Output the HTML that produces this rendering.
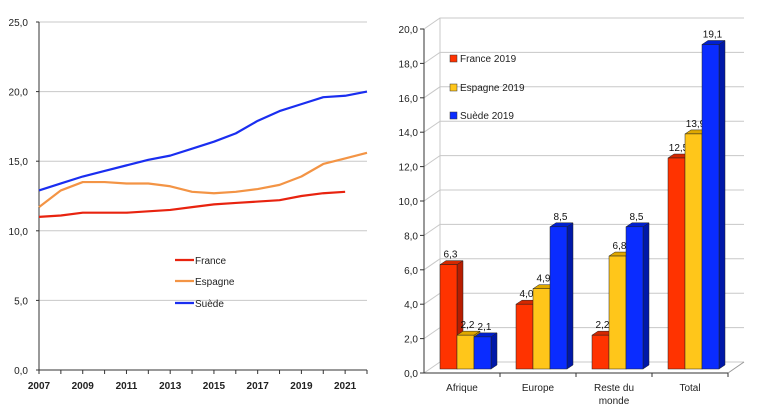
<!DOCTYPE html>
<html><head><meta charset="utf-8"><style>
html,body{margin:0;padding:0;background:#fff;}
svg{display:block;font-family:"Liberation Sans",sans-serif;}
</style></head><body>
<svg id="c" width="764" height="411" viewBox="0 0 764 411" xmlns="http://www.w3.org/2000/svg">
<g id="left"></g>
<g id="right"></g>
</svg>
<script>
const years=[2007,2008,2009,2010,2011,2012,2013,2014,2015,2016,2017,2018,2019,2020,2021,2022];
const franceLine=[11.0,11.1,11.3,11.3,11.3,11.4,11.5,11.7,11.9,12.0,12.1,12.2,12.5,12.7,12.8,null];
const espagneLine=[11.7,12.9,13.5,13.5,13.4,13.4,13.2,12.8,12.7,12.8,13.0,13.3,13.9,14.8,15.2,15.6];
const suedeLine=[12.9,13.4,13.9,14.3,14.7,15.1,15.4,15.9,16.4,17.0,17.9,18.6,19.1,19.6,19.7,20.0];
const lineTicks=[0,5,10,15,20,25];
const categories=[["Afrique"],["Europe"],["Reste du","monde"],["Total"]];
const franceBars=[6.3,4.0,2.2,12.5];
const espagneBars=[2.2,4.9,6.8,13.9];
const suedeBars=[2.1,8.5,8.5,19.1];
const barTicks=[0,2,4,6,8,10,12,14,16,18,20];

const NS="http://www.w3.org/2000/svg";
function mk(p,t,a,txt){const e=document.createElementNS(NS,t);for(const k in a)e.setAttribute(k,a[k]);if(txt!==undefined)e.textContent=txt;p.appendChild(e);return e;}
const fmt=v=>v.toFixed(1).replace('.',',');

// LEFT
const L=document.getElementById('left');
const lx=y=>39+(y-2007)*(367-39)/15;
const ly=v=>370-v*(370-22)/25;
lineTicks.forEach(t=>{
  if(t>0){const g=mk(L,'line',{x1:39,x2:367,y1:ly(t),y2:ly(t),stroke:'#c8c8c8','stroke-width':1});
  }
  const tk=mk(L,'line',{x1:36,x2:39,y1:ly(t),y2:ly(t),stroke:'#333'});
  
  const tl=mk(L,'text',{x:28,y:ly(t)+4,'font-size':10,'text-anchor':'end',fill:'#222'},fmt(t));
  
});
let a1=mk(L,'line',{x1:39,x2:39,y1:22,y2:370,stroke:'#333'});
let a2=mk(L,'line',{x1:39,x2:367,y1:370,y2:370,stroke:'#333'});
years.forEach((y,i)=>{
  const tk=mk(L,'line',{x1:lx(y),x2:lx(y),y1:370,y2:374,stroke:'#333'});
  
  if(i%2===0){const tl=mk(L,'text',{x:lx(y),y:389,'font-size':10,'font-weight':'bold','text-anchor':'middle',fill:'#222'},y);
  }
});
[[franceLine,'#e8230f','france-line'],[espagneLine,'#f39445','espagne-line'],[suedeLine,'#1a2ef0','suede-line']].forEach(([d,c,n])=>{
  let p='';d.forEach((v,i)=>{if(v!==null)p+=(p?'L':'M')+lx(years[i])+','+ly(v);});
  const e=mk(L,'path',{d:p,fill:'none',stroke:c,'stroke-width':2.2,'stroke-linejoin':'round'});
  
});
[['France','#e8230f',261],['Espagne','#f39445',282],['Suède','#1a2ef0',304]].forEach(([t,c,y])=>{
  const g=mk(L,'g',{});
  mk(g,'line',{x1:175,x2:194,y1:y-1,y2:y-1,stroke:c,'stroke-width':2.2});
  mk(g,'text',{x:195,y:y+3,'font-size':10,fill:'#222'},t);
});

// RIGHT
const R=document.getElementById('right');
const X0=424,Y0=373,DX=16,DY=-11;
const by=v=>Y0-v*(373-29)/20;
barTicks.forEach(t=>{
  const y=by(t);
  const g=mk(R,'polyline',{points:`${X0},${y} ${X0+DX},${y+DY} 744,${y+DY}`,fill:'none',stroke:'#c8c8c8'});
  
  const tk=mk(R,'line',{x1:X0-4,x2:X0,y1:y,y2:y,stroke:'#333'});
  
  const tl=mk(R,'text',{x:X0-6,y:y+4,'font-size':10,'text-anchor':'end',fill:'#222'},fmt(t));
  
});
let bw=mk(R,'line',{x1:X0+DX,x2:X0+DX,y1:by(0)+DY,y2:by(20)+DY,stroke:'#c8c8c8'});
let f=mk(R,'polyline',{points:`${X0},${Y0} 728,${Y0} 744,${Y0+DY}`,fill:'none',stroke:'#999'});
let ya=mk(R,'line',{x1:X0,x2:X0,y1:29,y2:Y0,stroke:'#333'});
let xa=mk(R,'line',{x1:X0,x2:728,y1:Y0,y2:Y0,stroke:'#333'});
const CW=76,BW=17,dx=6,dy=-4;
const series=[[franceBars,'#ff3300','#b81d00','#d42800','france'],[espagneBars,'#ffc61a','#c49000','#e0a800','espagne'],[suedeBars,'#0a2cff','#0018a8','#0020d0','suede']];
categories.forEach((cat,i)=>{
  const tk=mk(R,'line',{x1:X0+CW*(i+1),x2:X0+CW*(i+1),y1:Y0,y2:Y0+4,stroke:'#333'});
  
  cat.forEach((ln,j)=>{const tl=mk(R,'text',{x:X0+CW*i+38,y:391+j*13,'font-size':10,'text-anchor':'middle',fill:'#222'},ln);
  });
  series.forEach(([d,c,side,top,n],k)=>{
    const v=d[i],x=X0+CW*i+16+k*BW,y=by(v),yb=Y0-4;
    const g=mk(R,'g',{});
    mk(g,'polygon',{points:`${x+BW},${y} ${x+BW+dx},${y+dy} ${x+BW+dx},${yb+dy} ${x+BW},${yb}`,fill:side,stroke:'#222','stroke-width':0.5});
    mk(g,'polygon',{points:`${x},${y} ${x+dx},${y+dy} ${x+BW+dx},${y+dy} ${x+BW},${y}`,fill:top,stroke:'#222','stroke-width':0.5});
    mk(g,'rect',{x:x,y:y,width:BW,height:yb-y,fill:c,stroke:'#222','stroke-width':0.5});
    const vl=mk(R,'text',{x:x+BW/2+2,y:y-7,'font-size':10,'text-anchor':'middle',fill:'#111'},fmt(v));
    
  });
});
[['France  2019','#ff3300',59],['Espagne 2019','#ffc61a',88],['Suède 2019','#0a2cff',116]].forEach(([t,c,y])=>{
  const g=mk(R,'g',{});
  mk(g,'rect',{x:450,y:y-4,width:7,height:7,fill:c,stroke:'#333','stroke-width':0.5});
  mk(g,'text',{x:460,y:y+3,'font-size':10,fill:'#222','xml:space':'preserve'},t);
});
</script>
</body></html>
